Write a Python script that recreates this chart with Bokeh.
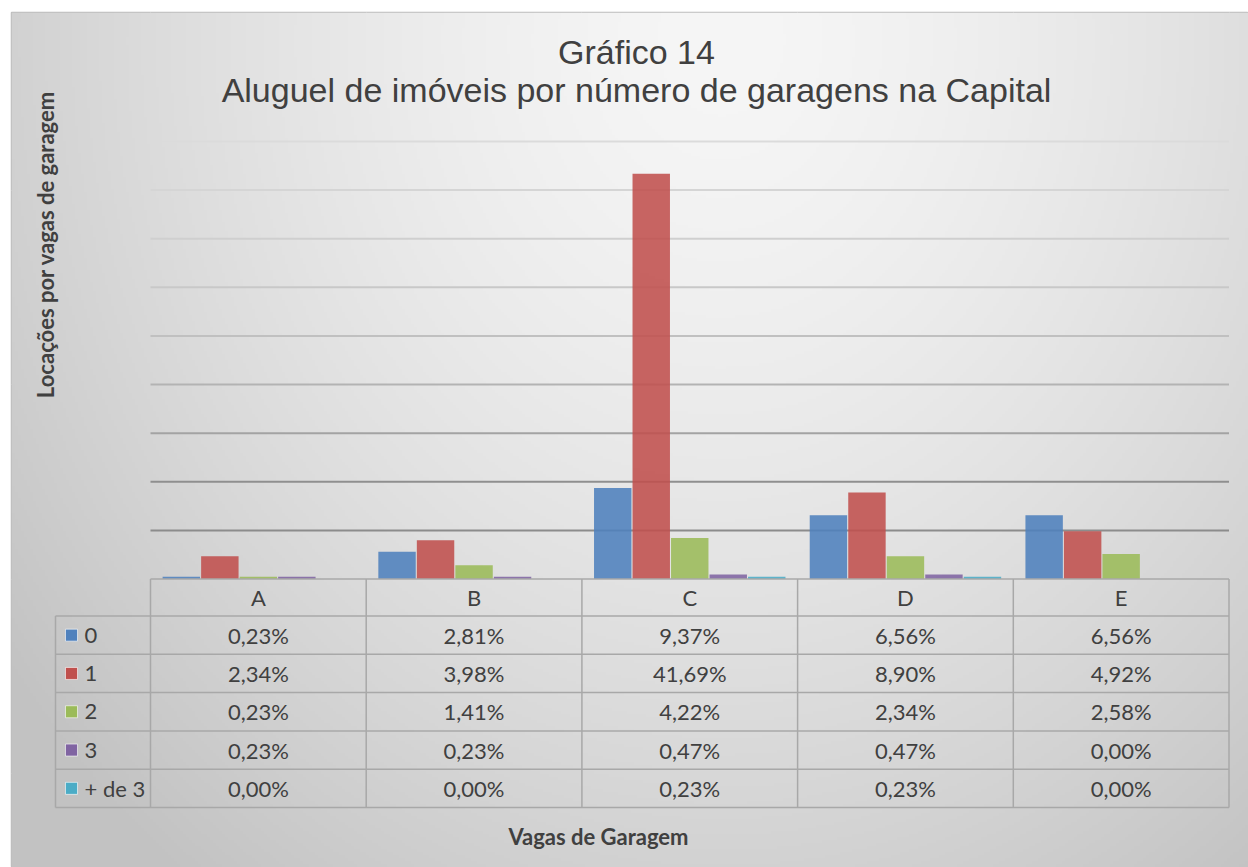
import numpy as np
from bokeh.plotting import figure
from bokeh.models import ColumnDataSource, Range1d
from bokeh.core.properties import value
from bokeh.embed import file_html
from bokeh.resources import INLINE

# ---------------- data ----------------
categories = ["A", "B", "C", "D", "E"]
series_names = ["0", "1", "2", "3", "+ de 3"]
vals_0 = [0.23, 2.81, 9.37, 6.56, 6.56]
vals_1 = [2.34, 3.98, 41.69, 8.90, 4.92]
vals_2 = [0.23, 1.41, 4.22, 2.34, 2.58]
vals_3 = [0.23, 0.23, 0.47, 0.47, 0.00]
vals_4 = [0.00, 0.00, 0.23, 0.23, 0.00]
series_values = [vals_0, vals_1, vals_2, vals_3, vals_4]
series_colors = ["#4f81bd", "#c0504d", "#9bbb59", "#8064a2", "#4bacc6"]
grid_ticks = [5, 10, 15, 20, 25, 30, 35, 40, 45]
grid_colors = ["#8c8c8c", "#8f8f8f", "#a3a3a3", "#b3b3b3", "#c0c0c0",
               "#c8c8c8", "#cfcfcf", "#d5d5d5", "#dbdbdb"]

title_1 = "Gráfico 14"
title_2 = "Aluguel de imóveis por número de garagens na Capital"
y_title = "Locações por vagas de garagem"
x_title = "Vagas de Garagem"

# ---------------- layout helpers (screen pixels -> data) ----------------
W, H = 1248, 867
BL, BT = 11, 12
PAGE_L, PAGE_T = BL, BT
PAGE_R, PAGE_B = W, H
CAT0_PX, CAT_W_PX = 150.0, 215.7
ZERO_PX, UNIT_PX = 578.5, 9.722

def dx(px):
    return (px - CAT0_PX) / CAT_W_PX

def dy(py):
    return (ZERO_PX - py) / UNIT_PX

x_start, x_end = dx(PAGE_L), dx(PAGE_R)
y_start, y_end = dy(PAGE_B), dy(PAGE_T)

p = figure(width=W, height=H, output_backend="svg", toolbar_location=None,
           x_range=Range1d(x_start, x_end), y_range=Range1d(y_start, y_end),
           x_axis_location=None, y_axis_location=None, title=None,
           min_border_left=BL, min_border_top=BT, min_border_right=0,
           min_border_bottom=0)
p.border_fill_color = "white"
p.background_fill_color = "#e0e0e0"
p.outline_line_color = "#bdbdbd"
p.outline_line_width = 1.5

# ---------------- background gradient ----------------
nx, ny = 412, 285
fw, fh = PAGE_R - PAGE_L, PAGE_B - PAGE_T
gx = PAGE_L + (np.arange(nx) + 0.5) * fw / nx
gy = PAGE_B - (np.arange(ny) + 0.5) * fh / ny
GX, GY = np.meshgrid(gx, gy)
r = np.sqrt(((GX - 720) / 850.0) ** 2 + ((GY - 40) / 1000.0) ** 2)
g = 246 - 48 * np.minimum(r, 1.05) ** 1.5
img = np.empty((ny, nx), dtype=np.uint32)
view = img.view(dtype=np.uint8).reshape((ny, nx, 4))
view[..., 0] = g.astype(np.uint8)
view[..., 1] = g.astype(np.uint8)
view[..., 2] = g.astype(np.uint8)
view[..., 3] = 255
p.image_rgba(image=[img], x=x_start, y=y_start, dw=x_end - x_start, dh=y_end - y_start)

ncat = len(categories)

# ---------------- gridlines ----------------
gsrc = ColumnDataSource(dict(y=grid_ticks, c=grid_colors))
p.segment(x0=0, x1=ncat, y0="y", y1="y", line_color="c", line_width=2, source=gsrc)

# ---------------- bars ----------------
step = 0.1785
for k, (vals, col) in enumerate(zip(series_values, series_colors)):
    xs = [i + 0.5 + (k - 2) * step for i in range(ncat)]
    src = ColumnDataSource(dict(x=xs, top=vals))
    p.vbar(x="x", top="top", bottom=0, width=step - 0.005, source=src,
           fill_color=col, fill_alpha=0.88, line_color=None)

# ---------------- data table ----------------
line_col = "#a8a8a8"
header_h, row_h = 37.0, 38.3
row_lines_px = [ZERO_PX + header_h + j * row_h for j in range(len(series_names) + 1)]
leg_left = dx(55)
tbl_bottom = dy(row_lines_px[-1])

vx = list(range(ncat + 1))
p.segment(x0=vx, x1=vx, y0=[0] * len(vx), y1=[tbl_bottom] * len(vx),
          line_color=line_col, line_width=1.5)
p.segment(x0=[leg_left], x1=[leg_left], y0=[dy(row_lines_px[0])], y1=[tbl_bottom],
          line_color=line_col, line_width=1.5)
p.segment(x0=[0], x1=[ncat], y0=[0], y1=[0], line_color=line_col, line_width=1.5)
p.segment(x0=[leg_left] * len(row_lines_px), x1=[ncat] * len(row_lines_px),
          y0=[dy(v) for v in row_lines_px], y1=[dy(v) for v in row_lines_px],
          line_color=line_col, line_width=1.5)

txt_col = "#404040"
font = value("Lato")
fs = "22px"

hdr_center = ZERO_PX + header_h / 2
p.text(x=[i + 0.5 for i in range(ncat)], y=[dy(hdr_center)] * ncat,
       text=categories, text_font=font, text_font_size=fs, text_color=txt_col,
       text_align="center", text_baseline="middle")

for k, (name, vals, col) in enumerate(zip(series_names, series_values, series_colors)):
    rc = row_lines_px[k] + row_h / 2
    labels = [f"{v:.2f}".replace(".", ",") + "%" for v in vals]
    p.text(x=[i + 0.5 for i in range(ncat)], y=[dy(rc)] * ncat,
           text=labels, text_font=font, text_font_size=fs, text_color=txt_col,
           text_align="center", text_baseline="middle")
    p.scatter(x=[dx(71)], y=[dy(rc)], marker="square", size=12,
              fill_color=col, line_color="white", line_alpha=0.6, line_width=1)
    p.text(x=[dx(84)], y=[dy(rc)], text=[name], text_font=font,
           text_font_size=fs, text_color=txt_col, text_align="left",
           text_baseline="middle")

# ---------------- titles ----------------
tfont = value("Liberation Sans")
p.text(x=[dx(636)] * 2, y=[dy(51), dy(89)], text=[title_1, title_2],
       text_font=tfont, text_font_size="34px", text_color=txt_col,
       text_align="center", text_baseline="middle")
p.text(x=[dx(598)], y=[dy(836)], text=[x_title], text_font=font,
       text_font_size=fs, text_font_style="bold", text_color=txt_col,
       text_align="center", text_baseline="middle")
p.text(x=[dx(45)], y=[dy(244)], text=[y_title], text_font=font,
       text_font_size=fs, text_font_style="bold", text_color=txt_col,
       text_align="center", text_baseline="middle", angle=np.pi / 2)

open("out.html", "w").write(file_html(p, INLINE))
